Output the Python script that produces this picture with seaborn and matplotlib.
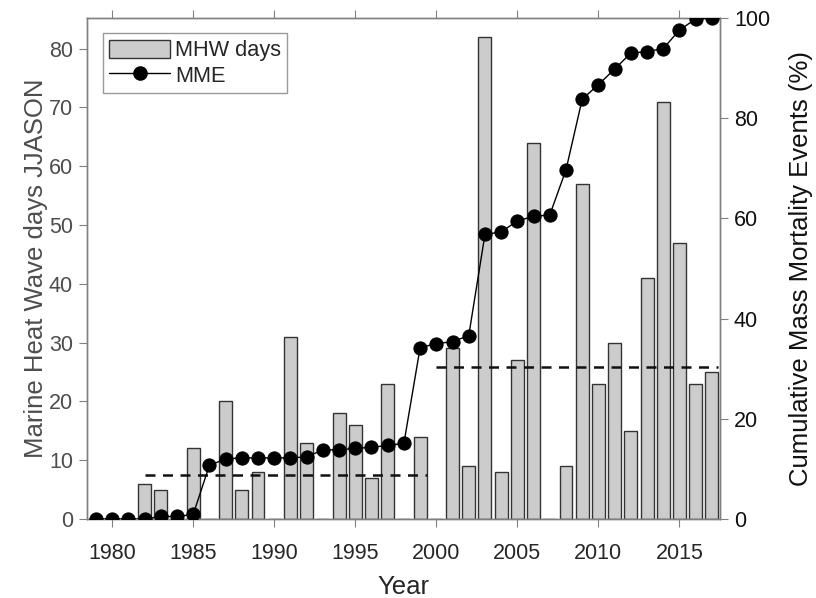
import numpy as np
import pandas as pd
import matplotlib
matplotlib.use("Agg")
import matplotlib.pyplot as plt
import seaborn as sns
from matplotlib.patches import Patch
from matplotlib.lines import Line2D

# ---- data ----
years = list(range(1979, 2018))
mhw_days = [0, 0, 0, 6, 5, 0, 12, 0, 20, 5, 8, 0, 31, 13, 0, 18, 16, 7, 23, 0,
            14, 0, 29, 9, 82, 8, 27, 64, 0, 9, 57, 23, 30, 15, 41, 71, 47, 23, 25]
mme_cum = [0, 0, 0, 0, 0.5, 0.5, 0.9, 10.7, 12.0, 12.2, 12.2, 12.2, 12.2, 12.4,
           13.8, 13.8, 14.1, 14.3, 14.7, 15.1, 34.2, 35.0, 35.4, 36.6, 56.8,
           57.3, 59.5, 60.4, 60.7, 69.7, 83.8, 86.7, 89.8, 93.0, 93.3, 93.9,
           97.6, 99.8, 100.0]
period_start = [1982.0, 2000.0]
period_end = [1999.4, 2017.35]
period_mean = [7.5, 25.8]

xticks = [1980, 1985, 1990, 1995, 2000, 2005, 2010, 2015]
left_ticks = [0, 10, 20, 30, 40, 50, 60, 70, 80]
right_ticks = [0, 20, 40, 60, 80, 100]

df = pd.DataFrame({"Year": years, "MHW": mhw_days, "MME": mme_cum})

sns.set_style("ticks")
plt.rcParams["font.family"] = ["Liberation Sans", "DejaVu Sans"]
FS_TICK = 15.5
FS_LABEL = 18.5
FS_LEG = 15.7

fig = plt.figure(figsize=(8.16, 5.98), dpi=100)
ax = fig.add_axes([87 / 816, 1 - 519 / 598, (720 - 87) / 816, (519 - 18) / 598])

sns.barplot(data=df, x="Year", y="MHW", native_scale=True, color="#cccccc",
            saturation=1, edgecolor="#333333", linewidth=1.0, width=0.8,
            errorbar=None, ax=ax, zorder=2)

for s, e, m in zip(period_start, period_end, period_mean):
    ax.plot([s, e], [m, m], color="#111111", linestyle=(0, (4, 3)), linewidth=1.8, zorder=3)

ax.set_xlim(1978.45, 2017.5)
ax.set_ylim(0, 85.2)
ax.set_xticks(xticks)
ax.set_yticks(left_ticks)
ax.set_xlabel("Year", fontsize=FS_LABEL, color="#262626", labelpad=8)
ax.set_ylabel("Marine Heat Wave days JJASON", fontsize=FS_LABEL, color="#4d4d4d", labelpad=0.5)
ax.tick_params(axis="x", which="both", direction="out", top=True, length=6,
               color="#808080", labelsize=FS_TICK, labelcolor="#262626", pad=11)
ax.tick_params(axis="y", direction="out", length=6, color="#808080",
               labelsize=FS_TICK, labelcolor="#4d4d4d", pad=4)
for sp in ax.spines.values():
    sp.set_visible(True)
    sp.set_color("#808080")
    sp.set_linewidth(1.0)

ax2 = ax.twinx()
sns.lineplot(data=df, x="Year", y="MME", ax=ax2, color="black", marker="o",
             markersize=9.5, markeredgecolor="black", linewidth=1.0, zorder=4)
ax2.set_ylim(0, 100)
ax2.set_yticks(right_ticks)
ax2.set_ylabel("Cumulative Mass Mortality Events (%)", fontsize=FS_LABEL, color="#111111", labelpad=14)
ax2.tick_params(axis="y", direction="out", length=6, color="#808080",
                labelsize=FS_TICK, labelcolor="#111111", pad=4)
ax2.set_xlabel("")
for sp in ax2.spines.values():
    sp.set_color("#808080")
    sp.set_linewidth(1.0)
ax2.set_xlim(1978.45, 2017.5)

handles = [Patch(facecolor="#cccccc", edgecolor="#333333", linewidth=1.0),
           Line2D([0], [0], color="black", marker="o", markersize=9.5, linewidth=1.0)]
leg = ax2.legend(handles, ["MHW days", "MME"], loc="upper left",
                 bbox_to_anchor=(0.025, 0.970), borderaxespad=0, fontsize=FS_LEG,
                 frameon=True, fancybox=False, edgecolor="#808080", handlelength=2.8,
                 handleheight=0.95, handletextpad=0.2, borderpad=0.3, labelspacing=0.15)
leg.get_frame().set_linewidth(1.0)
for t in leg.get_texts():
    t.set_color("#262626")

fig.savefig("out.png", dpi=100)
